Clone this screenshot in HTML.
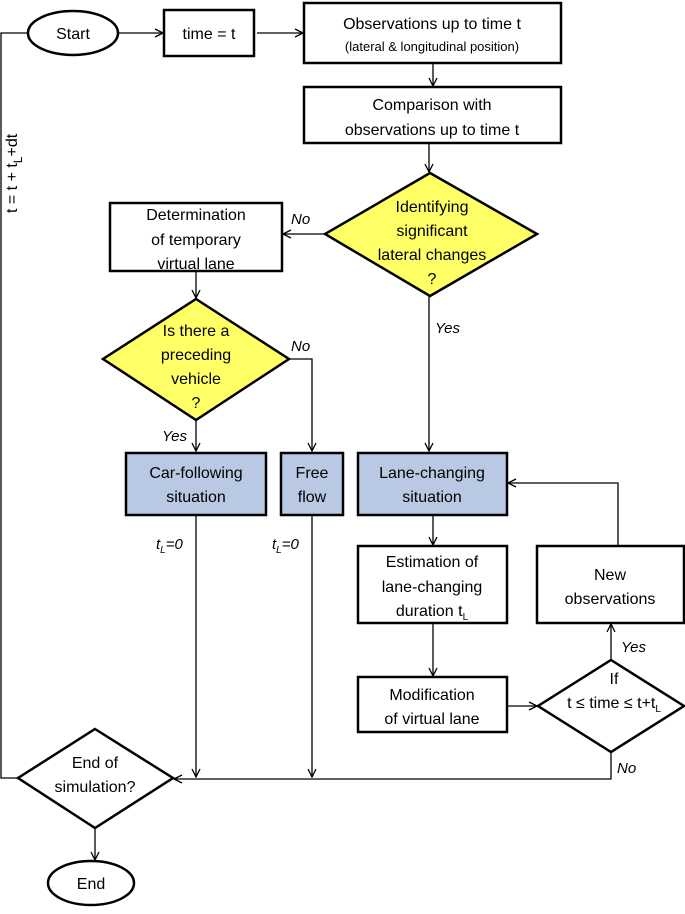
<!DOCTYPE html>
<html><head><meta charset="utf-8"><style>
html,body{margin:0;padding:0;background:#fff}
svg{display:block}
text{font-family:"Liberation Sans",sans-serif;font-size:16px;fill:#000}
.s{font-size:13px}
.i{font-style:italic;font-size:15px}
</style></head><body>
<svg width="685" height="914" viewBox="0 0 685 914" xmlns="http://www.w3.org/2000/svg">
<defs>
<marker id="a" markerWidth="10" markerHeight="10" refX="9" refY="5" orient="auto" markerUnits="userSpaceOnUse">
<path d="M1,1 L9,5 L1,9" fill="none" stroke="#000" stroke-width="1.3"/></marker>
</defs>
<g fill="none" stroke="#000" stroke-width="1.3">
<!-- connectors -->
<line x1="118" y1="33" x2="163" y2="33" marker-end="url(#a)"/>
<line x1="257" y1="33" x2="303" y2="33" marker-end="url(#a)"/>
<line x1="433" y1="63" x2="433" y2="86" marker-end="url(#a)"/>
<line x1="429" y1="143" x2="429" y2="172" marker-end="url(#a)"/>
<line x1="325" y1="234" x2="283" y2="234" marker-end="url(#a)"/>
<line x1="196" y1="271" x2="196" y2="298" marker-end="url(#a)"/>
<line x1="429" y1="296" x2="429" y2="451" marker-end="url(#a)"/>
<polyline points="289,359 312,359 312,451" marker-end="url(#a)"/>
<line x1="196" y1="420" x2="196" y2="451" marker-end="url(#a)"/>
<line x1="196" y1="515" x2="196" y2="777" marker-end="url(#a)"/>
<line x1="312" y1="515" x2="312" y2="777" marker-end="url(#a)"/>
<line x1="433" y1="515" x2="433" y2="545" marker-end="url(#a)"/>
<line x1="433" y1="623" x2="433" y2="676" marker-end="url(#a)"/>
<line x1="498" y1="706" x2="537" y2="706" marker-end="url(#a)"/>
<line x1="611" y1="660" x2="611" y2="624" marker-end="url(#a)"/>
<polyline points="618,546 618,483 508,483" marker-end="url(#a)"/>
<polyline points="611,752 611,779 174,779" marker-end="url(#a)"/>
<polyline points="18,778 1,778 1,33 28,33"/>
<line x1="95" y1="828" x2="95" y2="860" marker-end="url(#a)"/>
</g>
<g stroke="#000" stroke-width="2.5">
<ellipse cx="73" cy="33" rx="45" ry="22" fill="#fff"/>
<rect x="164" y="10" width="90" height="46" fill="#fff"/>
<rect x="304" y="3" width="257" height="60" fill="#fff"/>
<rect x="304" y="87" width="257" height="56" fill="#fff"/>
<polygon points="430,173 537,234 430,296 325,234" fill="#ffff66"/>
<rect x="110" y="203" width="172" height="68" fill="#fff"/>
<polygon points="196,299 289,359 196,420 103,359" fill="#ffff66"/>
<rect x="126" y="453" width="140" height="62" fill="#b9c9e3"/>
<rect x="281" y="453" width="62" height="62" fill="#b9c9e3"/>
<rect x="358" y="453" width="149" height="62" fill="#b9c9e3"/>
<rect x="358" y="546" width="149" height="77" fill="#fff"/>
<rect x="537" y="546" width="147" height="77" fill="#fff"/>
<rect x="358" y="677" width="149" height="55" fill="#fff"/>
<polygon points="611,660 684,706 611,752 538,706" fill="#fff"/>
<polygon points="95,729 173,778 95,828 18,778" fill="#fff"/>
<ellipse cx="91" cy="883" rx="43" ry="22" fill="#fff"/>
</g>
<g text-anchor="middle">
<text x="73" y="39">Start</text>
<text x="209" y="39">time = t</text>
<text x="432" y="29">Observations up to time t</text>
<text x="432" y="51" class="s">(lateral &amp; longitudinal position)</text>
<text x="432" y="110">Comparison with</text>
<text x="432" y="135">observations up to time t</text>
<text x="432" y="212">Identifying</text>
<text x="432" y="236">significant</text>
<text x="432" y="260">lateral changes</text>
<text x="432" y="284">?</text>
<text x="196" y="220">Determination</text>
<text x="196" y="245">of temporary</text>
<text x="196" y="269">virtual lane</text>
<text x="196" y="336">Is there a</text>
<text x="196" y="360">preceding</text>
<text x="196" y="384">vehicle</text>
<text x="196" y="408">?</text>
<text x="196" y="478">Car-following</text>
<text x="196" y="502">situation</text>
<text x="312" y="478">Free</text>
<text x="312" y="502">flow</text>
<text x="432" y="478">Lane-changing</text>
<text x="432" y="502">situation</text>
<text x="432" y="567">Estimation of</text>
<text x="432" y="592">lane-changing</text>
<text x="432" y="616">duration t<tspan font-size="10" dy="4">L</tspan></text>
<text x="432" y="700">Modification</text>
<text x="432" y="724">of virtual lane</text>
<text x="610" y="580">New</text>
<text x="610" y="604">observations</text>
<text x="614" y="684">If</text>
<text x="614" y="708">t ≤ time ≤ t+t<tspan font-size="10" dy="4">L</tspan></text>
<text x="95" y="768">End of</text>
<text x="95" y="792">simulation?</text>
<text x="91" y="889">End</text>
</g>
<text x="291" y="224" class="i">No</text>
<text x="291" y="351" class="i">No</text>
<text x="162" y="441" class="i">Yes</text>
<text x="435" y="333" class="i">Yes</text>
<text x="621" y="652" class="i">Yes</text>
<text x="617" y="773" class="i">No</text>
<text x="156" y="549" class="i">t<tspan font-size="10" dy="4">L</tspan><tspan dy="-4">=0</tspan></text>
<text x="272" y="549" class="i">t<tspan font-size="10" dy="4">L</tspan><tspan dy="-4">=0</tspan></text>
<text transform="translate(17,213) rotate(-90)" font-size="19">t = t + t<tspan font-size="12" dy="5">L</tspan><tspan dy="-5">+dt</tspan></text>
</svg>
</body></html>
